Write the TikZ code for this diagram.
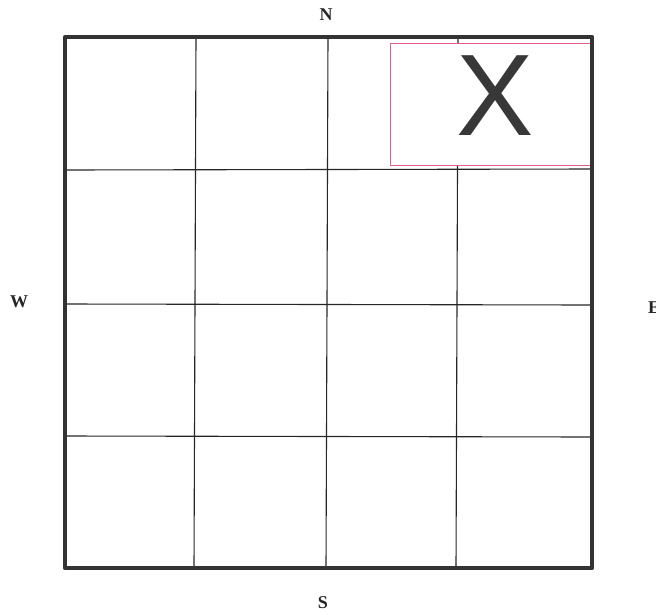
\documentclass[tikz,border=0pt]{standalone}
\usepackage{fontspec}
\setmainfont{Liberation Serif}
\newfontfamily\xsans{Liberation Sans}
\begin{document}
\begin{tikzpicture}[x=1pt,y=-1pt,
  outer/.style={line width=4.5pt,draw=black!80,line join=round},
  gridline/.style={line width=1.1pt,draw=black!85},
  pinkbox/.style={draw={rgb,255:red,225;green,95;blue,135},line width=1pt,fill=white},
  dirlabel/.style={font=\fontsize{18}{18}\selectfont\bfseries,text=black!85,inner sep=0pt}]
\useasboundingbox (0,0) rectangle (656,614);
% grid coordinates
\coordinate (tl) at (65,37);
\coordinate (br) at (592,568);
\draw[gridline] (196,37) -- (194,568);
\draw[gridline] (328,37) -- (326,568);
\draw[gridline] (458,37) -- (456,568);
\draw[gridline] (65,170) -- (592,169);
\draw[gridline] (65,304) -- (592,305);
\draw[gridline] (65,436) -- (592,437);
% pink box with X
\node[pinkbox,minimum width=200pt,minimum height=122pt,inner sep=0pt] (xbox) at (490,104) {};
\node[font=\xsans\fontsize{116}{116}\selectfont,text=black!78,inner sep=0pt] (xmark) at (495,96) {X};
\draw[outer] (tl) rectangle (br);
% direction labels
\node[dirlabel] (n) at (326,15) {N};
\node[dirlabel] (w) at (19,302) {W};
\node[dirlabel] (e) at (654,308) {E};
\node[dirlabel] (s) at (323,603) {S};
\end{tikzpicture}
\end{document}
